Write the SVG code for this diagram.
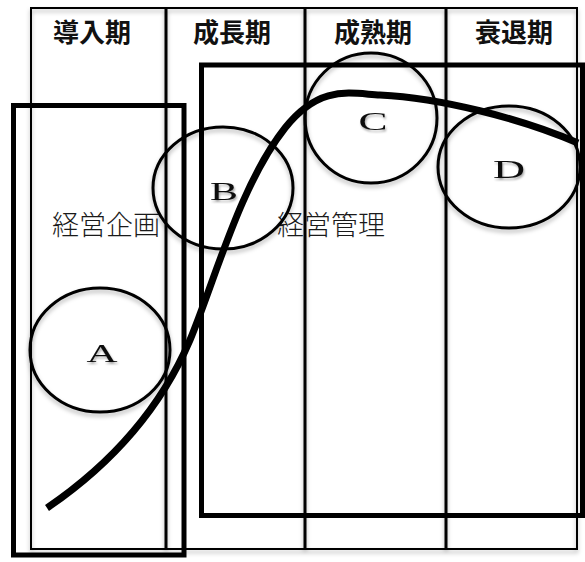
<svg xmlns="http://www.w3.org/2000/svg" width="585" height="562" viewBox="0 0 585 562">
  <defs>
    <filter id="sh" x="-20%" y="-20%" width="140%" height="150%">
      <feDropShadow dx="0" dy="3" stdDeviation="2" flood-color="#000" flood-opacity="0.28"/>
    </filter>
    <filter id="tsh" x="-30%" y="-30%" width="160%" height="180%">
      <feDropShadow dx="1" dy="2" stdDeviation="1.2" flood-color="#000" flood-opacity="0.35"/>
    </filter>
  </defs>
  <style>
    .tbl { fill: none; stroke: #000; stroke-width: 2; }
    .col { stroke: #000; stroke-width: 3; }
    .box { fill: none; stroke: #000; stroke-width: 5; }
    .circ { fill: none; stroke: #000; stroke-width: 3; filter: url(#sh); }
    .hdr { font-family: "Noto Sans CJK JP", sans-serif; font-size: 26px; font-weight: 700; text-anchor: middle; fill: #111; }
    .lbl { font-family: "Noto Sans CJK JP", sans-serif; font-size: 27px; font-weight: 300; fill: #1a1a1a; }
    .ltr { font-family: "Liberation Serif", serif; font-size: 26px; text-anchor: middle; fill: #111; filter: url(#tsh); }
    .curve { fill: none; stroke: #000; stroke-width: 7; stroke-linecap: butt; }
  </style>

  <g id="table" filter="url(#sh)">
    <rect class="tbl" x="31" y="8" width="546" height="541" fill="#fff"/>
    <line class="col" x1="166" y1="8" x2="166" y2="549"/>
    <line class="col" x1="305" y1="8" x2="305" y2="549"/>
    <line class="col" x1="446" y1="8" x2="446" y2="549"/>
  </g>

  <g id="headers">
    <text class="hdr" x="92" y="42">導入期</text>
    <text class="hdr" x="232" y="42">成長期</text>
    <text class="hdr" x="373" y="42">成熟期</text>
    <text class="hdr" x="514" y="42">衰退期</text>
  </g>

  <g id="box-planning">
    <rect class="box" x="13.5" y="105.5" width="170.5" height="449.5"/>
    <text class="lbl" x="52" y="235">経営企画</text>
  </g>

  <g id="box-management">
    <rect class="box" x="201.5" y="65" width="381" height="450.5"/>
    <text class="lbl" x="277" y="235">経営管理</text>
  </g>

  <g id="circle-A">
    <ellipse class="circ" cx="100" cy="350" rx="70" ry="62"/>
    <text class="ltr" x="102" y="362" textLength="31" lengthAdjust="spacingAndGlyphs">A</text>
  </g>
  <g id="circle-B">
    <ellipse class="circ" cx="223" cy="188" rx="70" ry="61"/>
    <text class="ltr" x="224" y="200" textLength="28" lengthAdjust="spacingAndGlyphs">B</text>
  </g>
  <g id="circle-C">
    <ellipse class="circ" cx="371" cy="118" rx="66" ry="65"/>
    <text class="ltr" x="373" y="130" textLength="29" lengthAdjust="spacingAndGlyphs">C</text>
  </g>
  <g id="circle-D">
    <ellipse class="circ" cx="509" cy="167" rx="71" ry="61"/>
    <text class="ltr" x="509" y="178" textLength="32" lengthAdjust="spacingAndGlyphs">D</text>
  </g>

  <g id="connectors">
    <path class="curve" d="M47,508 C110,465 160,410 190,340 C215,280 240,185 285,128 C320,84 350,93.5 380,95 C440,98 520,118 578,143"/>
  </g>
</svg>
